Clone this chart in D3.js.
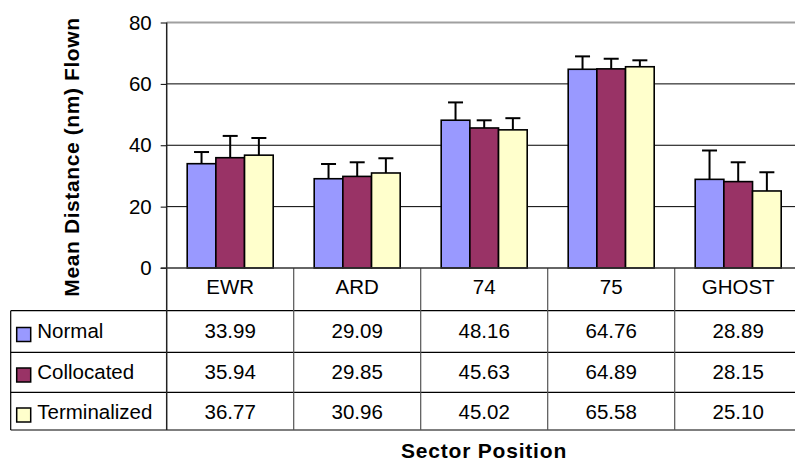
<!DOCTYPE html>
<html><head><meta charset="utf-8">
<script src="https://cdn.jsdelivr.net/npm/d3@7"></script>
<style>
body{margin:0;background:#fff}
svg{display:block}
text{font-family:"Liberation Sans",Arial,sans-serif;fill:#000}
</style>
</head><body>
<svg id="c" width="795" height="462"></svg>
<script>
const categories = ["EWR","ARD","74","75","GHOST"];
const seriesNames = ["Normal","Collocated","Terminalized"];
const normal = [33.99,29.09,48.16,64.76,28.89];
const collocated = [35.94,29.85,45.63,64.89,28.15];
const terminalized = [36.77,30.96,45.02,65.58,25.10];
const normalErr = [3.8,4.8,5.8,4.2,9.4];
const collocatedErr = [7.1,4.6,2.5,3.3,6.3];
const terminalizedErr = [5.6,4.8,3.8,2.1,6.1];
const tableLabels = [["33.99","29.09","48.16","64.76","28.89"],["35.94","29.85","45.63","64.89","28.15"],["36.77","30.96","45.02","65.58","25.10"]];
const yTicks = [0,20,40,60,80];
const colors = ["#9999FF","#993366","#FFFFCC"];

const values = [normal, collocated, terminalized];
const errs = [normalErr, collocatedErr, terminalizedErr];

const svg = d3.select("#c");
const L = 166.7, R = 801.7, T = 22.5, B = 268;
const x = d3.scaleBand().domain(categories).range([L, R]);
const xs = d3.scaleBand().domain(seriesNames).range([20.5, 106.5]);
const y = d3.scaleLinear().domain([0, 80]).range([B, T]);

// gridlines
svg.append("g").selectAll("line").data(yTicks.filter(t => t > 0 && t < 80)).join("line")
  .attr("x1", L).attr("x2", R).attr("y1", d => y(d)).attr("y2", d => y(d))
  .attr("stroke", "#000").attr("stroke-width", 1);
// top border
svg.append("line").attr("x1", L).attr("x2", R).attr("y1", y(80)).attr("y2", y(80))
  .attr("stroke", "#a0a0a0").attr("stroke-width", 2);

// bars
const data = [];
categories.forEach((c, i) => seriesNames.forEach((s, j) => data.push({c, s, j, v: values[j][i], e: errs[j][i]})));
const g = svg.append("g");
// error bars
g.selectAll("line.err").data(data).join("line").attr("class","err")
  .attr("x1", d => x(d.c) + xs(d.s) + xs.bandwidth()/2)
  .attr("x2", d => x(d.c) + xs(d.s) + xs.bandwidth()/2)
  .attr("y1", d => y(d.v)).attr("y2", d => y(d.v + d.e))
  .attr("stroke", "#000").attr("stroke-width", 2);
g.selectAll("line.cap").data(data).join("line").attr("class","cap")
  .attr("x1", d => x(d.c) + xs(d.s) + xs.bandwidth()/2 - 7.5)
  .attr("x2", d => x(d.c) + xs(d.s) + xs.bandwidth()/2 + 7.5)
  .attr("y1", d => y(d.v + d.e)).attr("y2", d => y(d.v + d.e))
  .attr("stroke", "#000").attr("stroke-width", 2);
g.selectAll("rect").data(data).join("rect")
  .attr("x", d => x(d.c) + xs(d.s)).attr("width", xs.bandwidth())
  .attr("y", d => y(d.v)).attr("height", d => y(0) - y(d.v))
  .attr("fill", d => colors[d.j]).attr("stroke", "#000").attr("stroke-width", 1.6);

// y axis
const ax = svg.append("g").attr("transform", `translate(${L},0)`)
  .call(d3.axisLeft(y).tickValues(yTicks).tickSize(6).tickPadding(9).tickSizeOuter(0));
ax.select(".domain").remove();
ax.selectAll(".tick line").attr("stroke", "#000").attr("stroke-width", 1);
ax.selectAll(".tick text").attr("font-size", "20.5px").attr("font-family", '"Liberation Sans",Arial,sans-serif').attr("fill", "#000");

// table
const rowLines = [310.7, 352.3, 392.3, 430];
const tbl = svg.append("g");
tbl.selectAll("line.h").data(rowLines).join("line").attr("class","h")
  .attr("x1", 10.7).attr("x2", R).attr("y1", d => d).attr("y2", d => d)
  .attr("stroke", "#000").attr("stroke-width", 1.2);
const vx = categories.map(c => x(c) + x.bandwidth()).slice(0, -1);
tbl.selectAll("line.v").data(vx).join("line").attr("class","v")
  .attr("x1", d => d).attr("x2", d => d).attr("y1", B).attr("y2", 430)
  .attr("stroke", "#555").attr("stroke-width", 1.2);
tbl.append("line").attr("x1", 10.7).attr("x2", 10.7).attr("y1", 310.7).attr("y2", 430)
  .attr("stroke", "#000").attr("stroke-width", 1.2);
// left axis line through table
svg.append("line").attr("x1", L).attr("x2", L).attr("y1", T).attr("y2", 430)
  .attr("stroke", "#222").attr("stroke-width", 1.5);
// bottom axis line
svg.append("line").attr("x1", L - 6).attr("x2", R).attr("y1", B).attr("y2", B)
  .attr("stroke", "#333").attr("stroke-width", 1.5);

// header text
tbl.selectAll("text.hd").data(categories).join("text").attr("class","hd")
  .attr("x", d => x(d) + x.bandwidth()/2).attr("y", 293.5)
  .attr("text-anchor", "middle").attr("font-size", "20.5px").text(d => d);
const baselines = [338, 378.5, 418.5];
seriesNames.forEach((s, j) => {
  tbl.selectAll("text.r" + j).data(categories).join("text").attr("class", "r" + j)
    .attr("x", d => x(d) + x.bandwidth()/2).attr("y", baselines[j])
    .attr("text-anchor", "middle").attr("font-size", "20.5px")
    .text((d, i) => tableLabels[j][i]);
  tbl.append("rect").attr("x", 16.7).attr("y", baselines[j] - 10.5).attr("width", 14).attr("height", 14)
    .attr("fill", colors[j]).attr("stroke", "#000").attr("stroke-width", 1.5);
  tbl.append("text").attr("x", 37.3).attr("y", baselines[j]).attr("font-size", "20.5px").text(s);
});

// titles
svg.append("text").attr("x", 484).attr("y", 458.3).attr("text-anchor", "middle")
  .attr("font-size", "21px").attr("font-weight", "bold").attr("letter-spacing", "0.8px").text("Sector Position");
svg.append("text").attr("transform", "translate(79,157) rotate(-90)").attr("text-anchor", "middle")
  .attr("font-size", "21px").attr("font-weight", "bold").attr("letter-spacing", "0.6px").text("Mean Distance (nm) Flown");
</script>
</body></html>
